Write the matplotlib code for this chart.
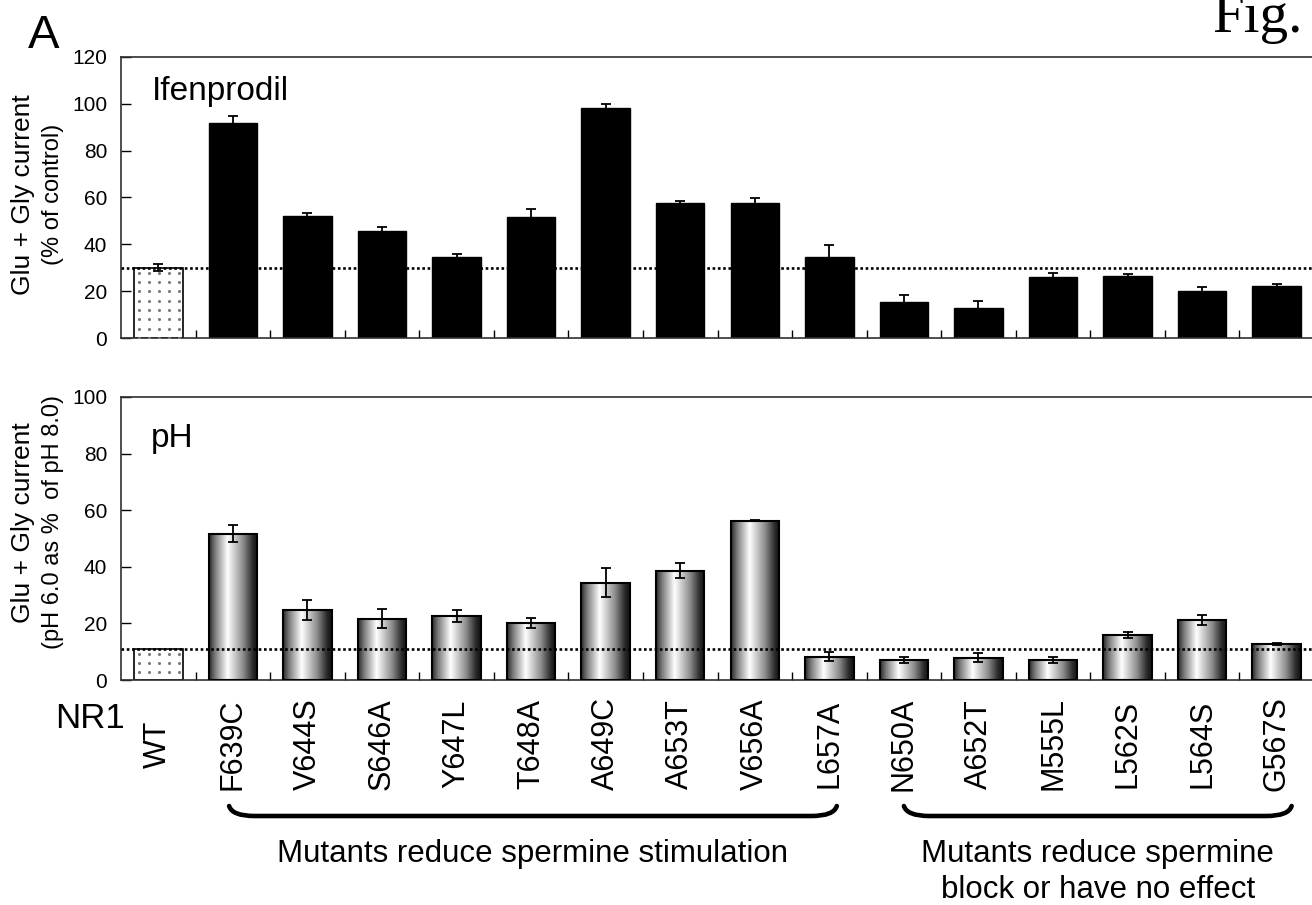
import numpy as np
import matplotlib
matplotlib.use("Agg")
from matplotlib import pyplot as plt
from matplotlib.colors import LinearSegmentedColormap
from matplotlib.path import Path
from matplotlib.patches import PathPatch
from matplotlib.transforms import blended_transform_factory

plt.rcParams['font.family'] = ['Liberation Sans', 'DejaVu Sans']

mutants = ['WT', 'F639C', 'V644S', 'S646A', 'Y647L', 'T648A', 'A649C', 'A653T',
           'V656A', 'L657A', 'N650A', 'A652T', 'M555L', 'L562S', 'L564S', 'G567S']

# Ifenprodil inhibition (% of control)
ifen_mean = [30, 92, 52, 45.5, 34.5, 51.7, 98.4, 57.6, 57.6, 34.8, 15.4, 12.8, 25.9, 26.6, 19.9, 22.0]
ifen_sem = [1.5, 3.0, 1.5, 1.8, 1.5, 3.5, 1.5, 1.0, 2.2, 5.0, 3.0, 3.0, 2.0, 0.6, 1.8, 1.0]

# Proton sensitivity (pH 6.0 as % of pH 8.0)
ph_mean = [11, 51.6, 24.7, 21.7, 22.6, 20.0, 34.4, 38.6, 56.3, 8.2, 7.0, 7.9, 7.0, 15.8, 21.3, 12.7]
ph_sem = [0, 3.0, 3.5, 3.4, 2.0, 1.8, 5.0, 2.7, 0.1, 1.6, 1.1, 1.5, 1.1, 1.1, 1.8, 0.3]

groups = [(0.95, 9.1, ['Mutants reduce spermine stimulation']),
          (10.0, 15.2, ['Mutants reduce spermine', 'block or have no effect'])]

W, H = 1312, 905
fig = plt.figure(figsize=(W / 100, H / 100), dpi=100)
ax1 = fig.add_axes([121 / W, 1 - 338 / H, 1193 / W, 281 / H])
ax2 = fig.add_axes([121 / W, 1 - 680 / H, 1193 / W, 283 / H])

x = np.arange(len(mutants))
bw = 0.65
grad = LinearSegmentedColormap.from_list(
    'cyl', [(0, '#2a2a2a'), (0.12, '#7a7a7a'), (0.38, '#ffffff'),
            (0.7, '#8c8c8c'), (0.9, '#2a2a2a'), (1, '#111111')])


def wt_bar(ax, h, top):
    # white control bar with a grey dot fill
    ax.bar(0, h, width=bw, color='white', edgecolor='black', lw=1.2, zorder=2)
    px = ax.get_position().height * H / top      # pixels per data unit
    ys = np.arange(h - 5 / px, 0, -9.3 / px)
    xs = -bw / 2 + 0.07 + np.arange(5) * 0.134
    gx, gy = np.meshgrid(xs, ys)
    ax.scatter(gx.ravel(), gy.ravel(), s=5, color='#7a7a7a', lw=0, zorder=3)


def style(ax, top):
    ax.set_xlim(-0.5, len(mutants) - 0.5)
    ax.set_ylim(0, top)
    ax.set_yticks(np.arange(0, top + 1, 20))
    ax.set_xticks(x)
    ax.set_xticks(np.arange(0.5, len(mutants) - 1, 1), minor=True)
    ax.tick_params(axis='y', direction='in', length=7, width=1, labelsize=15, pad=10)
    ax.tick_params(axis='x', which='major', length=0)
    ax.tick_params(axis='x', which='minor', direction='in', length=6, width=1)
    for s in ax.spines.values():
        s.set_linewidth(1.2)
        s.set_color('#303030')


# top panel: ifenprodil
wt_bar(ax1, ifen_mean[0], 120)
ax1.bar(x[1:], ifen_mean[1:], width=bw, color='black', edgecolor='black', lw=1, zorder=2)
ax1.errorbar(x, ifen_mean, yerr=ifen_sem, fmt='none', ecolor='black',
             elinewidth=1.3, capsize=3.8, capthick=1.3, zorder=4)
ax1.axhline(ifen_mean[0], color='black', ls=(0, (1, 1)), lw=1.9, zorder=5)
style(ax1, 120)
ax1.set_xticklabels([])
ax1.text(0.026, 0.847, 'Ifenprodil', transform=ax1.transAxes, fontsize=24, va='baseline')

# bottom panel: pH with shaded cylinders
wt_bar(ax2, ph_mean[0], 100)
for xi, h in zip(x[1:], ph_mean[1:]):
    ax2.imshow(np.linspace(0, 1, 200)[None, :], cmap=grad, aspect='auto',
               extent=[xi - bw / 2, xi + bw / 2, 0, h], zorder=2, interpolation='bilinear')
ax2.bar(x[1:], ph_mean[1:], width=bw, fill=False, edgecolor='black', lw=1.5, zorder=3)
ax2.errorbar(x[1:], ph_mean[1:], yerr=ph_sem[1:], fmt='none', ecolor='black',
             elinewidth=1.3, capsize=3.8, capthick=1.3, zorder=4)
ax2.axhline(ph_mean[0], color='black', ls=(0, (1, 1)), lw=1.9, zorder=5)
style(ax2, 100)
ax2.set_xticklabels(mutants, rotation=90, fontsize=22, va='center', ha='center')
ax2.tick_params(axis='x', which='major', pad=46)
ax2.text(0.025, 0.823, 'pH', transform=ax2.transAxes, fontsize=24, va='baseline')

# y axis titles
fig.text(23 / W, 1 - 195 / H, 'Glu + Gly current', rotation=90, fontsize=19, ha='center', va='center')
fig.text(53 / W, 1 - 194 / H, '(% of control)', rotation=90, fontsize=17, ha='center', va='center')
fig.text(23 / W, 1 - 523 / H, 'Glu + Gly current', rotation=90, fontsize=19, ha='center', va='center')
fig.text(53 / W, 1 - 522 / H, '(pH 6.0 as %  of pH 8.0)', rotation=90, fontsize=17, ha='center', va='center')

fig.text(125 / W, 1 - 718 / H, 'NR1', fontsize=25, ha='right', va='center')
fig.text(28 / W, 1 - 48 / H, 'A', fontsize=34, va='baseline')
fig.text(1212 / W, 1 - 32 / H, 'Fig.', fontsize=41, va='baseline',
         family=['Liberation Serif', 'DejaVu Serif'])

# brackets under the mutant groups
tr = blended_transform_factory(ax2.transData, fig.transFigure)
y_tip, y_bot = 1 - 806 / H, 1 - 816 / H
for x0, x1, lines in groups:
    d = 0.34
    verts = [(x0, y_tip), (x0 + 0.04, y_bot), (x0 + d, y_bot),
             (x1 - d, y_bot),
             (x1 - 0.04, y_bot), (x1, y_tip)]
    codes = [Path.MOVETO, Path.CURVE3, Path.CURVE3, Path.LINETO, Path.CURVE3, Path.CURVE3]
    fig.add_artist(PathPatch(Path(verts, codes), transform=tr, fill=False,
                             lw=3.3, capstyle='round', edgecolor='black'))
    for i, line in enumerate(lines):
        fig.text((x0 + x1) / 2, 1 - (862 + 36 * i) / H, line, transform=tr,
                 fontsize=22.5, ha='center', va='baseline')

plt.savefig('out.png', dpi=100)
